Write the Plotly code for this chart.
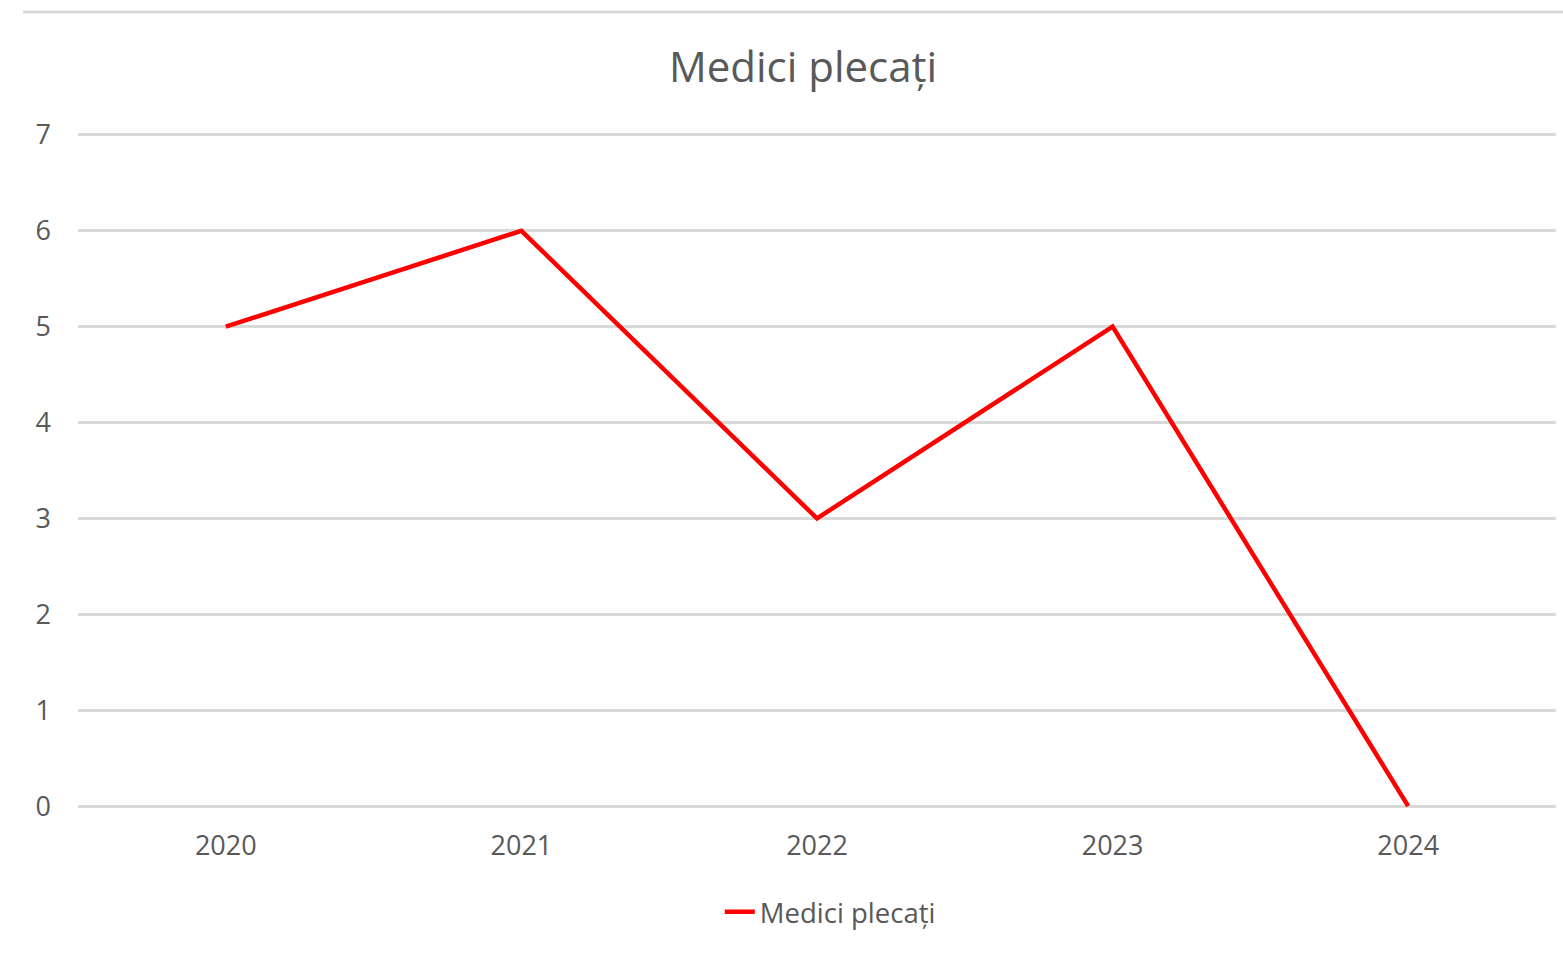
import plotly.graph_objects as go

# data
years = ["2020", "2021", "2022", "2023", "2024"]
medici_plecati = [5, 6, 3, 5, 0]
y_ticks = [0, 1, 2, 3, 4, 5, 6, 7]

fig = go.Figure(go.Scatter(
    x=years, y=medici_plecati, mode="lines", name="Medici plecați",
    line=dict(color="#ff0000", width=4.5),
))

fig.update_layout(
    width=1563, height=962,
    paper_bgcolor="white", plot_bgcolor="white",
    font=dict(family="Open Sans", color="#595959"),
    title=dict(text="Medici plecați", x=803 / 1563, xanchor="center",
               y=1 - 67 / 962, yanchor="middle",
               font=dict(size=42, color="#595959")),
    margin=dict(l=78, r=7, t=132, b=153),
    showlegend=True,
    legend=dict(orientation="h", x=0.509, xanchor="center",
                y=-0.152, yanchor="middle",
                font=dict(size=27.5, color="#595959")),
    # thin border line at the top of the chart frame
    shapes=[dict(type="line", xref="paper", yref="paper",
                 x0=-0.0372, x1=1.01, y0=1.1773, y1=1.1773,
                 line=dict(color="#d9d9d9", width=3))],
)

fig.update_xaxes(type="category", range=[-0.5, 4.5], showgrid=False,
                 showline=False, zeroline=False, ticks="", automargin=False,
                 tickfont=dict(size=27, color="#595959"), ticklabelstandoff=18)
fig.update_yaxes(range=[-0.03, 7.03], tickvals=y_ticks, showgrid=True,
                 gridcolor="#d9d9d9", gridwidth=3, zeroline=False,
                 showline=False, ticks="", automargin=False,
                 tickfont=dict(size=27, color="#595959"), ticklabelstandoff=26)

# drop the default page margin so the figure sits at the window corner
fig.write_html("out.html", config={"displayModeBar": False},
               post_script="document.body.style.margin = '0';")
